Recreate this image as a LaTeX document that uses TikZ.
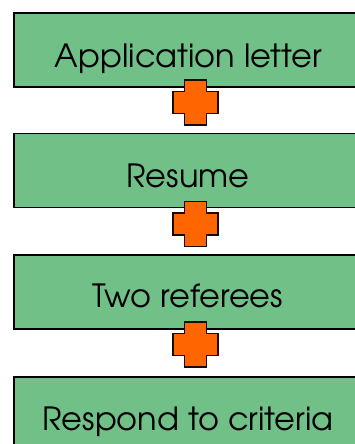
\documentclass[tikz,border=0pt]{standalone}
\usepackage{fontspec}
\newfontfamily\gothic{TeX Gyre Adventor}
\definecolor{boxgreen}{RGB}{112,192,136}
\definecolor{plusorange}{RGB}{255,102,0}
\tikzset{
  stepbox/.style={draw=black, line width=1.3pt, fill=boxgreen, minimum width=348pt, minimum height=74pt, inner sep=0pt},
  steptext/.style={anchor=base, inner sep=0pt, font=\gothic\fontsize{32}{32}\selectfont},
  plusshape/.style={draw=black!90!plusorange, line width=1.3pt, fill=plusorange, line join=miter}
}
\newcommand{\plussign}[1]{%
  \draw[plusshape] ($(#1)+(-11,-22.5)$) -- ++(22,0) -- ++(0,11.5) -- ++(11.5,0) -- ++(0,22) -- ++(-11.5,0) -- ++(0,11.5) -- ++(-22,0) -- ++(0,-11.5) -- ++(-11.5,0) -- ++(0,-22) -- ++(11.5,0) -- cycle;}
\usetikzlibrary{calc}
\begin{document}
\begin{tikzpicture}[x=1pt,y=-1pt]
\useasboundingbox (0,0) rectangle (354,444);
\node[stepbox] (b1) at (188,50) {};
\node[stepbox] (b2) at (188,170.5) {};
\node[stepbox] (b3) at (188,292) {};
\node[stepbox] (b4) at (188,414) {};
\node[steptext] (t1) at (188.5,67) {Application letter};
\node[steptext] (t2) at (188,187) {Resume};
\node[steptext] (t3) at (188,307) {Two referees};
\node[steptext] (t4) at (188,430) {Respond to criteria};
\coordinate (p1) at (195.5,102.5);
\coordinate (p2) at (195.5,224);
\coordinate (p3) at (195.5,344.5);
\plussign{p1}
\plussign{p2}
\plussign{p3}
\end{tikzpicture}
\end{document}
